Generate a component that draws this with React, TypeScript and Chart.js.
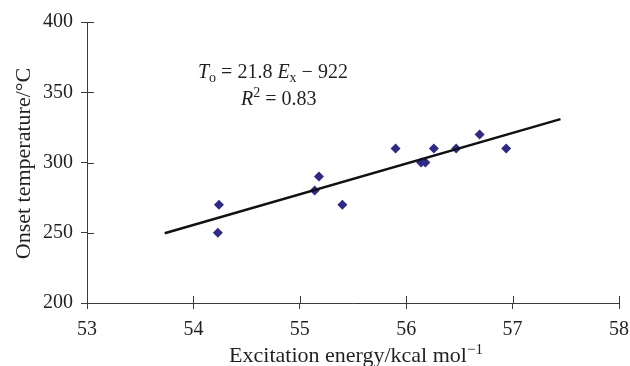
import React, { useEffect, useRef } from "react";
import { Chart, registerables } from "chart.js";

Chart.register(...registerables);

const energyX: number[] = [54.24, 54.23, 55.14, 55.18, 55.40, 55.90, 56.14, 56.18, 56.26, 56.47, 56.69, 56.94];
const onsetY: number[] = [270, 250, 280, 290, 270, 310, 300, 300, 310, 310, 320, 310];
const trendX: number[] = [53.73, 57.45];
const trendY: number[] = [249.6, 330.9];
const xTicks: number[] = [53, 54, 55, 56, 57, 58];
const yTicks: number[] = [200, 250, 300, 350, 400];

const FONT = "'Liberation Serif', 'Times New Roman', serif";
const TEXT = "#231f20";
const AXIS = "#3a3a3a";

type Part = { t: string; style?: string; size?: number; dy?: number };

const decorPlugin = {
  id: "decor",
  afterDraw(chart: any) {
    const ctx = chart.ctx as CanvasRenderingContext2D;
    const xs = chart.scales.x;
    const ys = chart.scales.y;
    const area = chart.chartArea;
    ctx.save();
    // inward tick marks
    ctx.strokeStyle = AXIS;
    ctx.lineWidth = 1;
    ctx.beginPath();
    xTicks.forEach((v) => {
      const px = Math.round(xs.getPixelForValue(v)) + 0.5;
      ctx.moveTo(px, area.bottom);
      ctx.lineTo(px, area.bottom - 7);
    });
    yTicks.forEach((v) => {
      const py = Math.round(ys.getPixelForValue(v)) + 0.5;
      ctx.moveTo(area.left, py);
      ctx.lineTo(area.left + 7, py);
    });
    ctx.stroke();

    ctx.fillStyle = TEXT;
    ctx.textBaseline = "alphabetic";
    ctx.textAlign = "left";
    const setFont = (p: Part, base: number) => {
      ctx.font = `${p.style ?? ""} ${p.size ?? base}px ${FONT}`;
    };
    const measure = (parts: Part[], base: number) =>
      parts.reduce((w, p) => {
        setFont(p, base);
        return w + ctx.measureText(p.t).width;
      }, 0);
    const draw = (parts: Part[], x: number, y: number, base: number) => {
      let cx = x;
      parts.forEach((p) => {
        setFont(p, base);
        ctx.fillText(p.t, cx, y + (p.dy ?? 0));
        cx += ctx.measureText(p.t).width;
      });
    };
    // equation annotation
    draw(
      [
        { t: "T", style: "italic" },
        { t: "o", size: 14, dy: 4 },
        { t: " = 21.8 " },
        { t: "E", style: "italic" },
        { t: "x", size: 14, dy: 4 },
        { t: " \u2212 922" },
      ],
      198,
      78,
      20
    );
    draw(
      [
        { t: "R", style: "italic" },
        { t: "2", size: 14, dy: -8 },
        { t: " = 0.83" },
      ],
      241,
      105,
      20
    );
    // x title
    const xt: Part[] = [
      { t: "Excitation energy/kcal mol" },
      { t: "\u22121", size: 15, dy: -8 },
    ];
    const xw = measure(xt, 22);
    draw(xt, (area.left + area.right) / 2 + 3 - xw / 2, 362, 22);
    // y title
    ctx.save();
    ctx.translate(30, (area.top + area.bottom) / 2 + 1);
    ctx.rotate(-Math.PI / 2);
    ctx.textAlign = "center";
    ctx.font = `22px ${FONT}`;
    ctx.fillText("Onset temperature/\u00B0C", 0, 0);
    ctx.restore();
    ctx.restore();
  },
};

export default function App() {
  const ref = useRef<HTMLCanvasElement | null>(null);
  useEffect(() => {
    if (!ref.current) return;
    const chart = new Chart(ref.current, {
      type: "scatter",
      data: {
        datasets: [
          {
            type: "line",
            data: trendX.map((x, i) => ({ x, y: trendY[i] })),
            borderColor: "#111",
            borderWidth: 2.5,
            pointRadius: 0,
            fill: false,
          } as any,
          {
            type: "scatter",
            data: energyX.map((x, i) => ({ x, y: onsetY[i] })),
            pointStyle: "rectRot",
            pointRadius: 5,
            backgroundColor: "#2e2a8a",
            borderColor: "#2e2a8a",
            borderWidth: 0,
          },
        ],
      },
      options: {
        animation: false,
        responsive: true,
        maintainAspectRatio: false,
        layout: { padding: { top: 22, right: 11, left: 0, bottom: 0 } },
        plugins: { legend: { display: false }, tooltip: { enabled: false } },
        scales: {
          x: {
            type: "linear",
            min: 53,
            max: 58,
            afterFit: (s: any) => {
              s.height = 63;
              s.paddingLeft = 0;
              s.paddingRight = 0;
            },
            afterBuildTicks: (s: any) => { s.ticks = xTicks.map((v) => ({ value: v })); },
            ticks: { font: { family: FONT, size: 20 }, color: TEXT, padding: 9 },
            grid: { drawOnChartArea: false, drawTicks: true, tickLength: 6, color: AXIS },
            border: { display: true, color: AXIS, width: 1 },
          },
          y: {
            type: "linear",
            min: 200,
            max: 400,
            afterFit: (s: any) => {
              s.width = 87;
              s.paddingTop = 0;
              s.paddingBottom = 0;
            },
            afterBuildTicks: (s: any) => { s.ticks = yTicks.map((v) => ({ value: v })); },
            ticks: { font: { family: FONT, size: 20 }, color: TEXT, padding: 8 },
            grid: { drawOnChartArea: false, drawTicks: true, tickLength: 6, color: AXIS },
            border: { display: true, color: AXIS, width: 1 },
          },
        },
      },
      plugins: [decorPlugin],
    });
    return () => chart.destroy();
  }, []);
  return (
    <div style={{ position: "fixed", left: 0, top: 0, width: 630, height: 366, background: "#fff" }}>
      <canvas ref={ref} />
    </div>
  );
}
